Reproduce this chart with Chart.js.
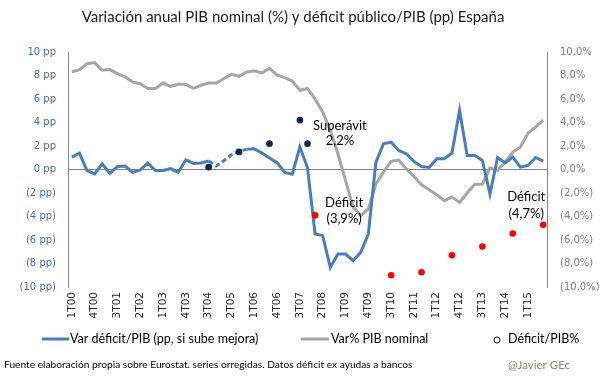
<!DOCTYPE html>
<html>
<head>
<meta charset="utf-8">
<script src="https://cdn.jsdelivr.net/npm/chart.js@4.4.1/dist/chart.umd.min.js"></script>
<style>
html,body{margin:0;padding:0;background:#ffffff;}
canvas{display:block;}
</style>
</head>
<body>
<canvas id="c" width="605" height="378"></canvas>
<script>
// ---- DATA ----
const years = ['00','01','02','03','04','05','06','07','08','09','10','11','12','13','14','15'];
const quarters = [];
years.forEach(y => { for (let q = 1; q <= 4; q++) quarters.push(q + 'T' + y); });
const categories = quarters.slice(0, 63); // 1T00 .. 3T15

// Var déficit/PIB (pp, si sube mejora) — left axis
const deficitChange = [
  1.05, 1.39, -0.10, -0.37, 0.49, -0.33, 0.26, 0.30, -0.24, -0.03,
  0.54, -0.09, -0.09, 0.08, -0.23, 0.82, 0.52, 0.56, 0.72, 0.30,
  0.75, 1.25, 1.55, 1.72, 1.76, 1.40, 0.98, 0.58, -0.25, -0.40,
  1.93, 0.15, -5.49, -5.63, -8.33, -7.20, -7.20, -7.76, -7.05, -5.49,
  0.63, 2.19, 2.33, 1.62, 1.34, 0.68, 0.26, 0.17, 0.91, 0.91,
  1.40, 5.03, 1.19, 1.19, 0.77, -2.10, 1.02, 0.56, 1.05, 0.20,
  0.34, 1.02, 0.71
];

// Var% PIB nominal — right axis
const gdpGrowth = [
  8.30, 8.50, 9.00, 9.10, 8.45, 8.50, 8.16, 7.88, 7.45, 7.30,
  6.90, 6.90, 7.36, 7.08, 7.25, 7.25, 6.90, 7.17, 7.36, 7.36,
  7.74, 8.10, 7.93, 8.30, 8.39, 8.22, 8.60, 8.02, 7.82, 7.53,
  6.74, 6.90, 6.00, 4.90, 3.33, 1.34, -0.94, -3.20, -3.92, -3.36,
  -1.22, -0.23, 0.70, 0.80, 0.05, -0.60, -1.30, -1.72, -2.14, -2.65,
  -2.33, -2.80, -2.00, -1.25, -1.25, 0.13, -0.09, 0.63, 1.48, 1.90,
  3.10, 3.60, 4.20
];

// Déficit/PIB% — annual points (left axis)
const deficitLevel = new Array(63).fill(null);
const deficitIdx = [18, 22, 26, 30, 31, 32, 42, 46, 50, 54, 58, 62];
const deficitVal = [0.2, 1.5, 2.2, 4.2, 2.2, -3.9, -9.0, -8.75, -7.3, -6.55, -5.45, -4.7];
deficitIdx.forEach((k, j) => { deficitLevel[k] = deficitVal[j]; });

const leftTicks = v => v >= 0 ? v + ' pp' : '(' + (-v) + ' pp)';
const rightTicks = v => {
  const s = Math.abs(v).toFixed(1).replace('.', ',') + '%';
  return v >= 0 ? s : '(' + s + ')';
};

const titleText = 'Variación anual PIB nominal (%) y déficit público/PIB (pp) España';
const legendTexts = ['Var déficit/PIB (pp, si sube mejora)', 'Var% PIB nominal', 'Déficit/PIB%'];
const sourceText = 'Fuente elaboración propia sobre Eurostat. series orregidas. Datos déficit ex ayudas a bancos';
const authorText = '@Javier GEc';

// ---- STYLE ----
const BLUE = '#4a7ebb';
const GREY = '#a6a6a6';
const NAVY = '#0b2559';
const RED = '#ff0000';
const CAL = 'Lato, "Open Sans", sans-serif';
const VER = '"DejaVu Sans", Verdana, sans-serif';

const extras = {
  id: 'extras',
  afterDraw(chart) {
    const ctx = chart.ctx;
    const xs = chart.scales.x, yl = chart.scales.y;
    ctx.save();
    // title
    ctx.fillStyle = '#1a1a1a';
    ctx.font = '15px ' + CAL;
    ctx.textAlign = 'center';
    ctx.textBaseline = 'middle';
    ctx.fillText(titleText, 293, 17);

    // annotations
    ctx.font = '13px ' + CAL;
    ctx.fillStyle = '#000000';
    const ax1 = xs.getPixelForValue(30) + 40;
    ctx.fillText('Superávit', ax1, yl.getPixelForValue(3.75));
    ctx.fillText('2,2%', ax1, yl.getPixelForValue(2.4));
    const ax2 = xs.getPixelForValue(32) + 29;
    ctx.fillText('Déficit', ax2, yl.getPixelForValue(-2.85));
    ctx.fillText('(3,9%)', ax2, yl.getPixelForValue(-4.2));
    const ax3 = xs.getPixelForValue(62) - 17;
    ctx.fillText('Déficit', ax3, yl.getPixelForValue(-2.3));
    ctx.fillText('(4,7%)', ax3, yl.getPixelForValue(-3.75));

    // legend
    const ly = 339;
    ctx.textAlign = 'left';
    ctx.font = '12.5px ' + CAL;
    ctx.lineWidth = 3;
    ctx.strokeStyle = BLUE;
    ctx.beginPath(); ctx.moveTo(42, ly); ctx.lineTo(69, ly); ctx.stroke();
    ctx.fillStyle = '#000';
    ctx.fillText(legendTexts[0], 70, ly);
    ctx.strokeStyle = GREY;
    ctx.beginPath(); ctx.moveTo(301, ly); ctx.lineTo(329, ly); ctx.stroke();
    ctx.fillText(legendTexts[1], 331, ly);
    ctx.lineWidth = 1;
    ctx.strokeStyle = '#000';
    ctx.beginPath(); ctx.arc(497, ly + 1, 3, 0, Math.PI * 2); ctx.stroke();
    ctx.fillText(legendTexts[2], 508, ly);

    // footer
    ctx.font = '10.2px ' + CAL;
    ctx.fillStyle = '#000';
    ctx.fillText(sourceText, 4, 365);
    ctx.font = '11.5px ' + CAL;
    ctx.fillStyle = '#8c8a78';
    ctx.fillText(authorText, 508, 365);
    ctx.restore();
  }
};

new Chart(document.getElementById('c'), {
  type: 'line',
  data: {
    labels: categories,
    datasets: [
      {
        label: legendTexts[0],
        data: deficitChange,
        yAxisID: 'y',
        borderColor: BLUE,
        backgroundColor: BLUE,
        borderWidth: 3,
        pointRadius: 0,
        tension: 0,
        order: 2,
        segment: {
          borderDash: c => (c.p0DataIndex >= 18 && c.p1DataIndex <= 23) ? [5, 3] : undefined
        }
      },
      {
        label: legendTexts[1],
        data: gdpGrowth,
        yAxisID: 'y2',
        borderColor: GREY,
        backgroundColor: GREY,
        borderWidth: 3,
        pointRadius: 0,
        tension: 0,
        order: 3
      },
      {
        label: legendTexts[2],
        data: deficitLevel,
        yAxisID: 'y',
        showLine: false,
        pointRadius: 3.3,
        pointBorderWidth: 0,
        pointBackgroundColor: c => (c.raw !== null && c.raw >= 0) ? NAVY : RED,
        pointBorderColor: c => (c.raw !== null && c.raw >= 0) ? NAVY : RED,
        order: 1
      }
    ]
  },
  options: {
    responsive: false,
    animation: false,
    devicePixelRatio: 1,
    layout: { padding: { top: 52, left: 0, right: 0, bottom: 0 } },
    plugins: { legend: { display: false }, tooltip: { enabled: false }, title: { display: false } },
    scales: {
      x: {
        type: 'category',
        offset: true,
        grid: { display: false, drawTicks: false },
        border: { display: false },
        ticks: {
          autoSkip: false,
          minRotation: 90,
          maxRotation: 90,
          padding: 5,
          color: '#262626',
          font: { family: VER, size: 10.5 },
          callback: function (v, i) { return i % 3 === 0 ? this.getLabelForValue(v) : ''; }
        },
        afterFit: s => { s.height = 91; }
      },
      y: {
        position: 'left',
        min: -10, max: 10,
        grid: {
          drawTicks: false,
          color: c => c.tick && c.tick.value === 0 ? '#808080' : 'rgba(0,0,0,0)',
          lineWidth: 1
        },
        border: { display: true, color: '#868686', width: 1 },
        ticks: {
          stepSize: 2,
          padding: 12,
          color: '#3d6fb0',
          font: { family: VER, size: 10 },
          callback: leftTicks
        },
        afterFit: s => { s.width = 68; }
      },
      y2: {
        position: 'right',
        min: -10, max: 10,
        grid: { display: false, drawTicks: false },
        border: { display: true, color: '#868686', width: 1 },
        ticks: {
          stepSize: 2,
          padding: 13,
          color: '#7f7f7f',
          font: { family: VER, size: 10 },
          callback: rightTicks
        },
        afterFit: s => { s.width = 58; }
      }
    }
  },
  plugins: [extras]
});
</script>
</body>
</html>
